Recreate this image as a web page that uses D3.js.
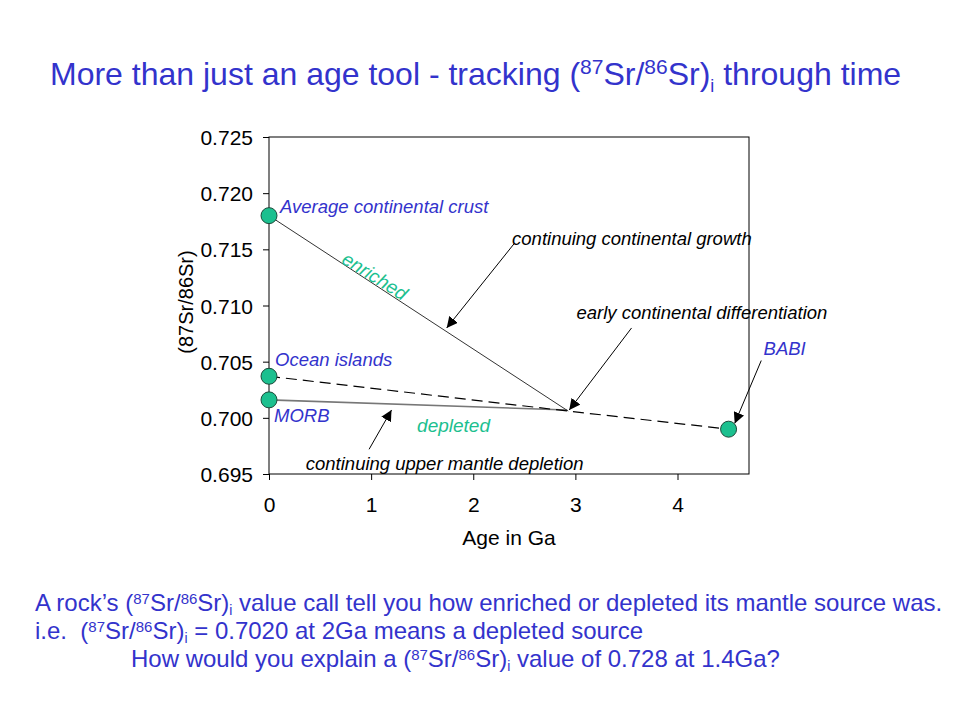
<!DOCTYPE html>
<html>
<head>
<meta charset="utf-8">
<script src="https://cdn.jsdelivr.net/npm/d3@7"></script>
<style>
  body { margin: 0; background: #fff; }
  svg { font-family: "Liberation Sans", Arial, sans-serif; }
</style>
</head>
<body>
<svg id="chart" width="960" height="720"></svg>
<script>
// reservoirs (age Ga, 87Sr/86Sr)
const pointNames = ['Average continental crust', 'Ocean islands', 'MORB', 'BABI'];
const pointAge = [0, 0, 0, 4.5];
const pointSr = [0.718, 0.7037, 0.7016, 0.69899];

// evolution lines
const junction = [2.93, 0.7006];
const crustLine = [[0, 0.718], junction];
const morbLine = [[0, 0.7016], [2.92, 0.7007]];
const dashedLine = [[0, 0.7037], junction, [4.5, 0.69899]];

const xTicks = [0, 1, 2, 3, 4];
const yTicks = [0.695, 0.700, 0.705, 0.710, 0.715, 0.720, 0.725];

// annotation arrows [from, to]
const arrows = [
  [[2.40, 0.7155], [1.74, 0.7080]],
  [[3.55, 0.7080], [2.94, 0.7007]],
  [[4.82, 0.7051], [4.56, 0.6995]],
  [[0.98, 0.6972], [1.20, 0.7007]]
];

const blue = '#3333cc';
const green = '#1cc08f';

const svg = d3.select('#chart');
const margin = { left: 269, right: 211, top: 137, bottom: 246 };
const width = 960 - margin.left - margin.right;
const height = 720 - margin.top - margin.bottom;

const x = d3.scaleLinear().domain([0, 4.7]).range([0, width]);
const y = d3.scaleLinear().domain([0.695, 0.725]).range([height, 0]);

// title
const title = svg.append('text')
    .attr('x', 50).attr('y', 85)
    .attr('fill', blue)
    .style('font-size', '32px');
title.append('tspan').text('More than just an age tool - tracking (');
title.append('tspan').text('87').attr('dy', -11).style('font-size', '21px');
title.append('tspan').text('Sr/').attr('dy', 11);
title.append('tspan').text('86').attr('dy', -11).style('font-size', '21px');
title.append('tspan').text('Sr)').attr('dy', 11);
title.append('tspan').text('i').attr('dy', 7).style('font-size', '18px');
title.append('tspan').text(' through time').attr('dy', -7);

const g = svg.append('g').attr('transform', `translate(${margin.left},${margin.top})`);

svg.append('defs').append('marker')
    .attr('id', 'arrow')
    .attr('viewBox', '0 0 10 10')
    .attr('refX', 10).attr('refY', 5)
    .attr('markerWidth', 11).attr('markerHeight', 11)
    .attr('markerUnits', 'userSpaceOnUse')
    .attr('orient', 'auto')
    .append('path')
    .attr('d', 'M0,0 L10,5 L0,10 Z')
    .attr('fill', '#000');

// axes
const xAxis = g.append('g')
    .attr('transform', `translate(0,${height})`)
    .call(d3.axisBottom(x).tickValues(xTicks).tickSize(6).tickSizeOuter(0).tickFormat(d3.format('d')));
const yAxis = g.append('g')
    .call(d3.axisLeft(y).tickValues(yTicks).tickSize(6).tickSizeOuter(0).tickFormat(d3.format('.3f')));
[xAxis, yAxis].forEach(a => {
  a.select('.domain').remove();
  a.selectAll('line').attr('stroke', '#000');
  a.selectAll('text')
      .attr('fill', '#000')
      .style('font-size', '21px')
      .style('font-family', '"Liberation Sans", Arial, sans-serif');
});
xAxis.selectAll('text').attr('y', 38).attr('dy', 0);
yAxis.selectAll('text').attr('x', -16).attr('dy', '0.36em');

g.append('rect')
    .attr('width', width).attr('height', height)
    .attr('fill', 'none').attr('stroke', '#000').attr('stroke-width', 1);

svg.append('text')
    .attr('transform', `translate(${margin.left + width / 2},545)`)
    .attr('text-anchor', 'middle')
    .style('font-size', '21px')
    .text('Age in Ga');

svg.append('text')
    .attr('transform', `translate(193,302) rotate(-90)`)
    .attr('text-anchor', 'middle')
    .style('font-size', '20px')
    .text('(87Sr/86Sr)');

// lines
const line = d3.line().x(d => x(d[0])).y(d => y(d[1]));
g.append('path').datum(morbLine).attr('d', line)
    .attr('fill', 'none').attr('stroke', '#777').attr('stroke-width', 1.6);
g.append('path').datum(crustLine).attr('d', line)
    .attr('fill', 'none').attr('stroke', '#333').attr('stroke-width', 1);
g.append('path').datum(dashedLine).attr('d', line)
    .attr('fill', 'none').attr('stroke', '#000').attr('stroke-width', 1.2)
    .attr('stroke-dasharray', '11,6');

// arrows
g.selectAll('.arrow')
  .data(arrows)
  .enter().append('line')
    .attr('x1', d => x(d[0][0])).attr('y1', d => y(d[0][1]))
    .attr('x2', d => x(d[1][0])).attr('y2', d => y(d[1][1]))
    .attr('stroke', '#000').attr('stroke-width', 1)
    .attr('marker-end', 'url(#arrow)');

// points
g.selectAll('.pt')
  .data(pointNames)
  .enter().append('circle')
    .attr('cx', (d, i) => x(pointAge[i]))
    .attr('cy', (d, i) => y(pointSr[i]))
    .attr('r', 8)
    .attr('fill', green)
    .attr('stroke', '#1d4a3a').attr('stroke-width', 1);

// labels
const labelOffsets = [[11, -3], [6, -10], [5, 22], [35, -74]];
g.selectAll('.lbl')
  .data(pointNames)
  .enter().append('text')
    .attr('x', (d, i) => x(pointAge[i]) + labelOffsets[i][0])
    .attr('y', (d, i) => y(pointSr[i]) + labelOffsets[i][1])
    .attr('fill', blue)
    .style('font-size', '18.5px')
    .style('font-style', 'italic')
    .text(d => d);

const notes = [
  ['continuing continental growth', 2.38, 0.7154],
  ['early continental differentiation', 3.01, 0.7088],
  ['continuing upper mantle depletion', 0.36, 0.6954]
];
g.selectAll('.note')
  .data(notes)
  .enter().append('text')
    .attr('x', d => x(d[1])).attr('y', d => y(d[2]))
    .style('font-size', '18.5px')
    .style('font-style', 'italic')
    .attr('fill', '#000')
    .text(d => d[0]);

g.append('text')
    .attr('transform', `translate(${x(0.7)},${y(0.7133) - 6}) rotate(32)`)
    .attr('fill', green)
    .style('font-size', '19px')
    .style('font-style', 'italic')
    .text('enriched');
g.append('text')
    .attr('x', x(1.45)).attr('y', y(0.6987))
    .attr('fill', green)
    .style('font-size', '19px')
    .style('font-style', 'italic')
    .text('depleted');

// bottom text
function srText(sel) {
  sel.append('tspan').text('(');
  sel.append('tspan').text('87').attr('dy', -7).style('font-size', '15px');
  sel.append('tspan').text('Sr/').attr('dy', 7);
  sel.append('tspan').text('86').attr('dy', -7).style('font-size', '15px');
  sel.append('tspan').text('Sr)').attr('dy', 7);
  sel.append('tspan').text('i').attr('dy', 4).style('font-size', '14px');
}
const l1 = svg.append('text').attr('x', 35).attr('y', 611).attr('fill', blue).style('font-size', '24px');
l1.append('tspan').text('A rock\u2019s ');
srText(l1);
l1.append('tspan').text(' value call tell you how enriched or depleted its mantle source was.').attr('dy', -4);

const l2 = svg.append('text').attr('x', 35).attr('y', 639).attr('fill', blue).style('font-size', '24px');
l2.append('tspan').text('i.e.\u00a0\u00a0');
srText(l2);
l2.append('tspan').text(' = 0.7020 at 2Ga means a depleted source').attr('dy', -4);

const l3 = svg.append('text').attr('x', 131).attr('y', 667).attr('fill', blue).style('font-size', '24px');
l3.append('tspan').text('How would you explain a ');
srText(l3);
l3.append('tspan').text(' value of 0.728 at 1.4Ga?').attr('dy', -4);
</script>
</body>
</html>
